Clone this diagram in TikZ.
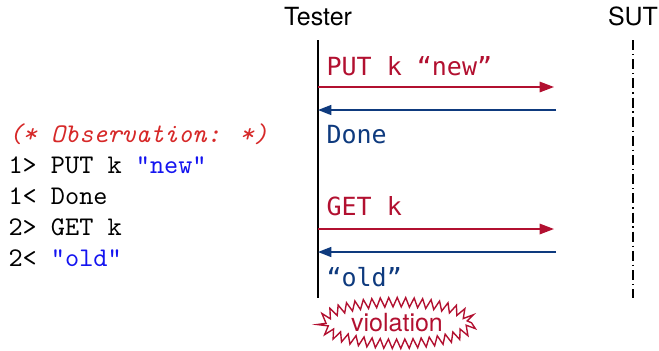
\documentclass[tikz,border=0pt]{standalone}
\usepackage{fontspec}
\setsansfont{TeX Gyre Heros}
\newfontfamily\msgfont{DejaVu Sans Mono}
\usetikzlibrary{shapes.geometric}
\usetikzlibrary{decorations.pathmorphing}
\usetikzlibrary{arrows.meta}

\definecolor{callred}{RGB}{178,16,48}
\definecolor{replyblue}{RGB}{14,58,126}
\definecolor{commentred}{RGB}{214,40,40}
\definecolor{strblue}{RGB}{20,20,240}

\begin{document}
\begin{tikzpicture}[x=0.36pt,y=-0.36pt]
    \newcommand{\testerx}[0]{318}
    \newcommand{\sutx}[0]{633}
    \newcommand{\turnx}[0]{554}
    \newcommand{\textx}[0]{326}

    \tikzstyle{actor}=[
      font=\sffamily\fontsize{9}{11}\selectfont,
      anchor=base,
      inner sep=0pt,
    ]
    \tikzstyle{call}=[
      line width=0.55pt,
      draw=callred,
      -{Triangle[length=5.2pt,width=3.8pt]},
    ]
    \tikzstyle{reply}=[
      line width=0.55pt,
      draw=replyblue,
      -{Triangle[length=4.8pt,width=3.6pt]},
    ]
    \tikzstyle{msglabel}=[
      font=\msgfont\fontsize{9}{11}\selectfont,
      anchor=base west,
      inner sep=0pt,
    ]
    \tikzstyle{listing}=[
      font=\ttfamily\fontsize{9.7}{12}\selectfont,
      anchor=base west,
      inner sep=0pt,
    ]

    \useasboundingbox (0,0) rectangle (659,350);

    % lifelines
    \node[actor] (tester) at (\testerx, 25) {Tester};
    \node[actor] (sut) at (\sutx, 25) {SUT};
    \coordinate (testertop) at (\testerx, 40);
    \coordinate (testerbot) at (\testerx, 298);
    \coordinate (suttop) at (\sutx, 40);
    \coordinate (sutbot) at (\sutx, 298);
    \draw[line width=0.55pt] (testertop) -- (testerbot);
    \draw[line width=0.45pt,dash pattern=on 3.6pt off 1.4pt on 0.5pt off 1.4pt]
      (suttop) -- (sutbot);

    % messages
    \coordinate (putsend) at (\testerx, 87);
    \coordinate (putrecv) at (\turnx, 87);
    \coordinate (donesend) at (556, 110);
    \coordinate (donerecv) at (\testerx, 110);
    \coordinate (getsend) at (\testerx, 229);
    \coordinate (getrecv) at (\turnx, 229);
    \coordinate (oldsend) at (556, 252);
    \coordinate (oldrecv) at (\testerx, 252);

    \draw[call] (putsend) -- (putrecv);
    \draw[reply] (donesend) -- (donerecv);
    \draw[call] (getsend) -- (getrecv);
    \draw[reply] (oldsend) -- (oldrecv);

    \node[msglabel,text=callred] (putlabel) at (\textx, 75) {PUT k “new”};
    \node[msglabel,text=replyblue] (donelabel) at (\textx, 143) {Done};
    \node[msglabel,text=callred] (getlabel) at (\textx, 215) {GET k};
    \node[msglabel,text=replyblue] (oldlabel) at (\textx, 286) {“old”};

    \node[
      ellipse,
      draw=callred,
      line width=0.5pt,
      minimum width=54pt,
      minimum height=15pt,
      inner sep=0pt,
      decorate,
      decoration={zigzag,segment length=3pt,amplitude=1.7pt},
      text=callred,
      font=\sffamily\fontsize{9}{11}\selectfont,
    ] (violation) at (397, 323) {violation};

    % observed history
    \node[listing,text=commentred] (obs) at (8, 142) {\itshape (* Observation: *)};
    \node[listing] (line1) at (8, 173) {1> PUT k \textcolor{strblue}{"new"}};
    \node[listing] (line2) at (8, 204) {1< Done};
    \node[listing] (line3) at (8, 235) {2> GET k};
    \node[listing] (line4) at (8, 266) {2< \textcolor{strblue}{"old"}};
\end{tikzpicture}
\end{document}
